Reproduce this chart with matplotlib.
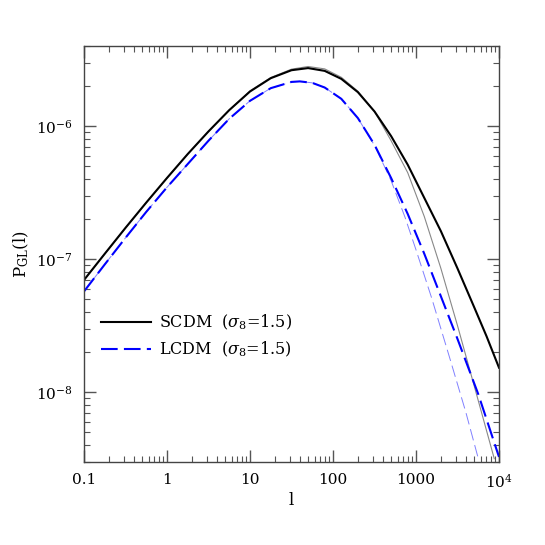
import numpy as np
import matplotlib
matplotlib.use("Agg")
import matplotlib.pyplot as plt

# values (log10 l, log10 P)
scdm_logl = [-1.0, -0.75, -0.5, -0.25, 0.0, 0.25, 0.5, 0.75, 1.0, 1.25, 1.5, 1.7,
             1.9, 2.1, 2.3, 2.5, 2.7, 2.9, 3.1, 3.3, 3.5, 3.7, 3.85, 4.0]
scdm_logp = [-7.157, -6.96, -6.765, -6.575, -6.39, -6.21, -6.04, -5.88, -5.74, -5.64, -5.58, -5.564,
             -5.585, -5.645, -5.745, -5.89, -6.075, -6.29, -6.54, -6.79, -7.07, -7.36, -7.58, -7.816]

scdm_lin_logl = [-1.0, -0.75, -0.5, -0.25, 0.0, 0.25, 0.5, 0.75, 1.0, 1.25, 1.5, 1.7,
                 1.9, 2.1, 2.3, 2.5, 2.7, 2.9, 3.1, 3.3, 3.5, 3.7, 3.943]
scdm_lin_logp = [-7.157, -6.96, -6.765, -6.575, -6.39, -6.21, -6.04, -5.88, -5.735, -5.635, -5.572, -5.552,
                 -5.57, -5.633, -5.738, -5.89, -6.11, -6.35, -6.68, -7.07, -7.5, -7.95, -8.5]

lcdm_logl = [-1.0, -0.75, -0.5, -0.25, 0.0, 0.25, 0.5, 0.75, 1.0, 1.25, 1.5, 1.6,
             1.75, 1.9, 2.1, 2.3, 2.5, 2.7, 2.9, 3.1, 3.3, 3.5, 3.75, 4.0]
lcdm_logp = [-7.243, -7.04, -6.84, -6.645, -6.46, -6.285, -6.11, -5.945, -5.81, -5.715, -5.668, -5.664,
             -5.675, -5.71, -5.795, -5.94, -6.14, -6.39, -6.66, -6.96, -7.28, -7.6, -8.015, -8.487]

lcdm_lin_logl = [-1.0, -0.75, -0.5, -0.25, 0.0, 0.25, 0.5, 0.75, 1.0, 1.25, 1.5, 1.6,
                 1.75, 1.9, 2.1, 2.3, 2.5, 2.7, 2.867, 3.0, 3.189, 3.4, 3.6, 3.751]
lcdm_lin_logp = [-7.243, -7.04, -6.84, -6.645, -6.46, -6.285, -6.11, -5.945, -5.81, -5.715, -5.668, -5.664,
                 -5.675, -5.71, -5.795, -5.94, -6.145, -6.41, -6.684, -6.93, -7.293, -7.73, -8.15, -8.5]

xtick_vals = [0.1, 1, 10, 100, 1000, 1e4]
xtick_labels = ["0.1", "1", "10", "100", "1000", r"$10^4$"]

plt.rcParams['font.family'] = 'DejaVu Serif'
plt.rcParams['mathtext.fontset'] = 'dejavuserif'

fig = plt.figure(figsize=(5.45, 5.45), dpi=100)
ax = fig.add_axes([0.1541, 0.1528, 0.7615, 0.7628])

def tolin(a):
    return 10 ** np.asarray(a)

ax.plot(tolin(scdm_lin_logl), tolin(scdm_lin_logp), color='#888888', lw=0.8)
ax.plot(tolin(lcdm_lin_logl), tolin(lcdm_lin_logp), color='#8080ff', lw=0.7,
        dashes=(12, 5))
ax.plot(tolin(scdm_logl), tolin(scdm_logp), color='black', lw=1.5,
        label=r'SCDM  ($\sigma_8$=1.5)')
ax.plot(tolin(lcdm_logl), tolin(lcdm_logp), color='#0000ff', lw=1.5,
        dashes=(8, 3), label=r'LCDM  ($\sigma_8$=1.5)')

ax.set_xscale('log')
ax.set_yscale('log')
ax.set_xlim(0.1, 1e4)
ax.set_ylim(3e-9, 4e-6)
ax.set_xticks(xtick_vals)
ax.set_xticklabels(xtick_labels)

for s in ax.spines.values():
    s.set_color('#444444')
    s.set_linewidth(1.0)
ax.tick_params(which='both', direction='in', top=True, right=True, colors='#555555',
               labelcolor='black', labelsize=11)
ax.tick_params(which='major', length=8.6, width=1.0, pad=8)
ax.tick_params(which='minor', length=4.3, width=0.8)

ax.set_xlabel('l', fontsize=12, labelpad=1)
ax.set_ylabel(r'P$_{\rm GL}$(l)', fontsize=12, labelpad=4)

ax.legend(loc='upper left', bbox_to_anchor=(0.015, 0.385), frameon=False,
          fontsize=11.5, handlelength=3.1, handletextpad=0.5, labelspacing=0.45,
          borderpad=0.2)

fig.savefig('out.png', dpi=100)
